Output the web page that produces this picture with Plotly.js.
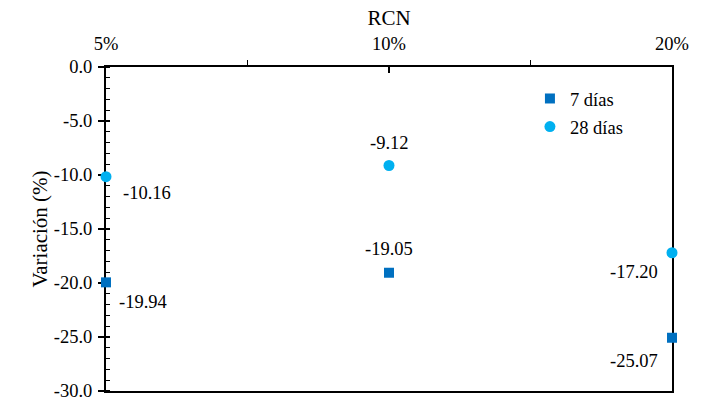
<!DOCTYPE html>
<html>
<head>
<meta charset="utf-8">
<script src="https://cdn.plot.ly/plotly-3.0.1.min.js"></script>
<style>html,body{margin:0;padding:0;background:#fff;}#chart{width:703px;height:401px;}</style>
</head>
<body>
<div id="chart"></div>
<script>
// ---- data ----
const categories = ["5%", "10%", "20%"];
const catPos = [0, 1, 2];
const dias7 = [-19.94, -19.05, -25.07];
const dias28 = [-10.16, -9.12, -17.20];
const yTicks = [0, -5, -10, -15, -20, -25, -30];

// ---- styles ----
const FAM = "Liberation Serif, Times New Roman, serif";
const f = (s) => ({family: FAM, size: s, color: "#000"});
const shift7 = [[37, -20], [0, 24], [-38, -23]];
const shift28 = [[41, -16], [0, 23], [-38, -19]];

const t7 = {
  x: catPos, y: dias7, name: "7 días", type: "scatter", mode: "markers",
  legendgroup: "a",
  marker: {symbol: "square", size: 10, color: "#0070C0"},
  cliponaxis: false
};
const t28 = {
  x: catPos, y: dias28, name: "28 días", type: "scatter", mode: "markers",
  legendgroup: "b",
  marker: {symbol: "circle", size: 11, color: "#00B0F0"},
  cliponaxis: false
};

const annotations = [];
catPos.forEach((x, i) => {
  annotations.push({x: x, y: dias7[i], xref: "x", yref: "y", text: dias7[i].toFixed(2),
    showarrow: false, xshift: shift7[i][0], yshift: shift7[i][1], font: f(18.5)});
  annotations.push({x: x, y: dias28[i], xref: "x", yref: "y", text: dias28[i].toFixed(2),
    showarrow: false, xshift: shift28[i][0], yshift: shift28[i][1], font: f(18.5)});
});

const layout = {
  width: 703, height: 401,
  margin: {l: 106, r: 31, t: 67, b: 10},
  paper_bgcolor: "#fff", plot_bgcolor: "#fff",
  font: f(18.5),
  showlegend: true,
  legend: {x: 0.749, y: 0.96, xanchor: "left", yanchor: "top", bgcolor: "rgba(0,0,0,0)",
    font: f(18.5), traceorder: "grouped", tracegroupgap: 1},
  annotations: annotations,
  xaxis: {
    side: "top", range: [0, 2], tickmode: "array", tickvals: catPos, ticktext: categories,
    ticks: "inside", ticklen: 6, tickwidth: 1.5, tickcolor: "#000",
    minor: {tickmode: "array", tickvals: [0.5, 1.5], ticks: "outside", ticklen: 5, tickwidth: 1.5, tickcolor: "#000"},
    showline: true, linecolor: "#000", linewidth: 2, mirror: true, layer: "below traces",
    showgrid: false, zeroline: false, fixedrange: true,
    tickfont: f(18.5), ticklabelstandoff: 8, ticklabeloverflow: "allow",
    title: {text: "RCN", font: f(21), standoff: 2}
  },
  yaxis: {
    range: [-30, 0], tickmode: "array", tickvals: yTicks, ticktext: yTicks.map(v => v.toFixed(1)),
    ticks: "outside", ticklen: 6, tickwidth: 1.5, tickcolor: "#000",
    minor: {dtick: 1, ticks: "inside", ticklen: 4, tickwidth: 1.2, tickcolor: "#000", showgrid: false},
    showline: true, linecolor: "#000", linewidth: 2, mirror: true, layer: "below traces",
    showgrid: false, zeroline: false, fixedrange: true,
    tickfont: f(18.5), ticklabelstandoff: 2, ticklabeloverflow: "allow",
    title: {text: "Variación (%)", font: f(21), standoff: 0}
  }
};

Plotly.newPlot("chart", [t7, t28], layout, {displayModeBar: false, staticPlot: true});
</script>
</body>
</html>
